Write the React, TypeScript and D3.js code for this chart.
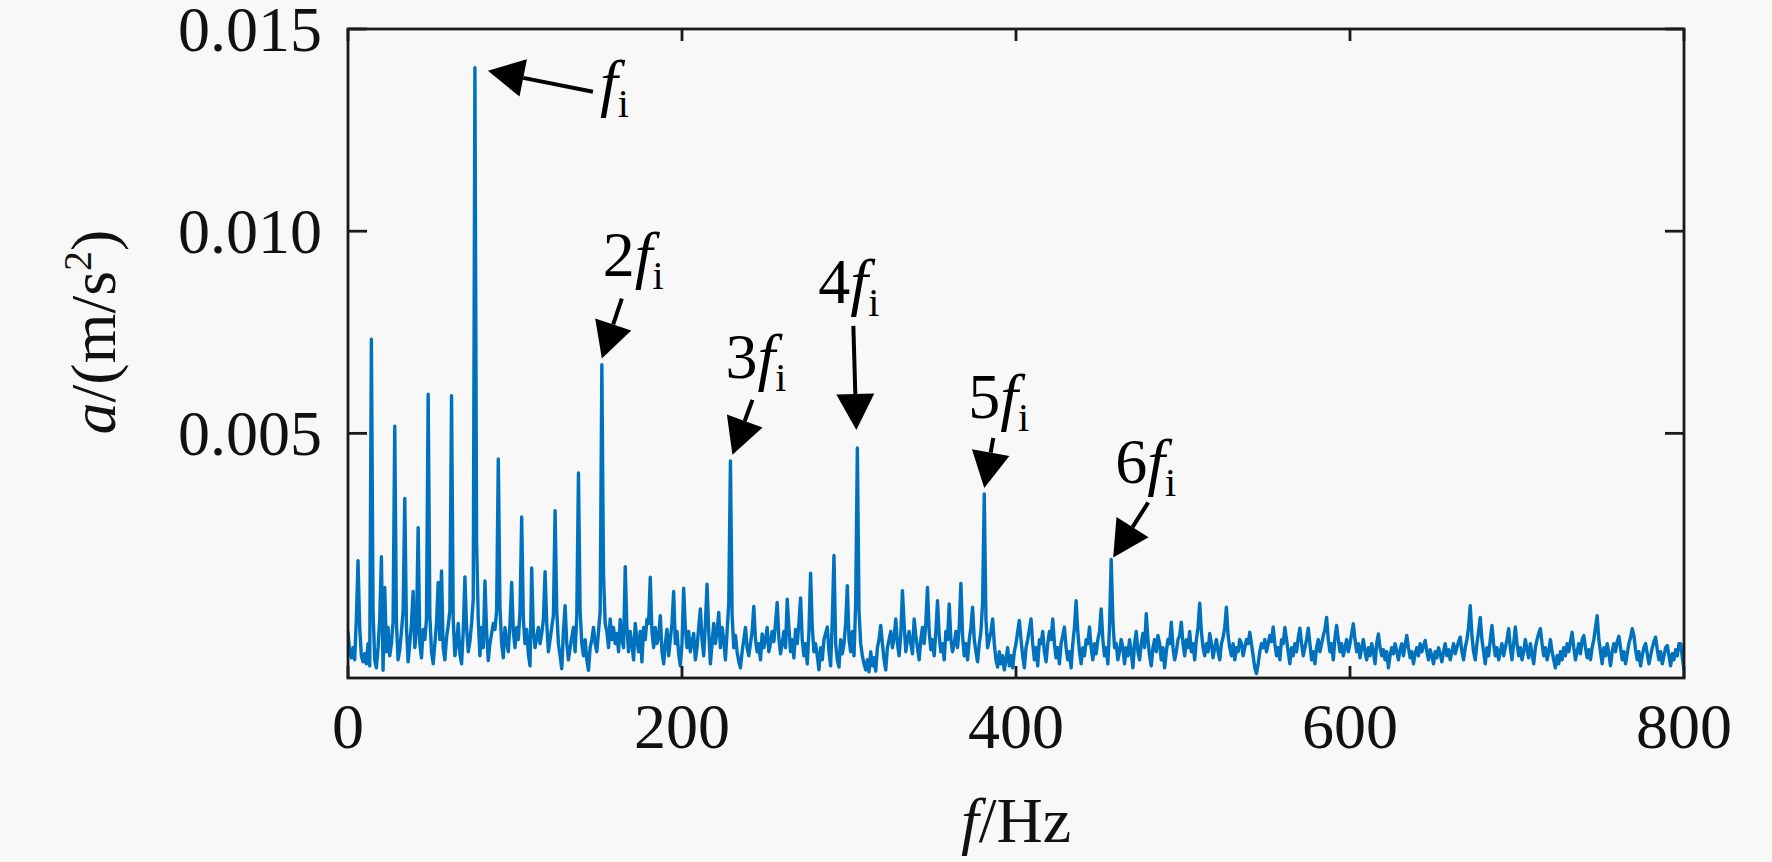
import React, { useEffect, useRef } from 'react';
import * as d3 from 'd3';

const WIDTH = 1772;
const HEIGHT = 862;

// spectrum bins, 1 Hz apart, starting at 0 Hz
const FREQ_STEP = 1;
// amplitude of every bin, in units of 1e-5 m/s^2
const AMP_UNIT = 1e-5;
const AMPLITUDE: number[] = [
  10, -40, -55, -30, -60, 40, 185, 20, -50, -65, -45, -70, -20, -75, 733, 60, -60, -80, -30, 40,
  195, -86, 119, -40, 20, -50, -20, 35, 518, 30, -60, -35, 10, 60, 339, 20, -65, -20, 30, 109,
  -30, 10, 267, -20, -55, 15, -10, 40, 597, 50, -40, -70, -20, 30, 131, -10, 160, -30, -60, -5,
  25, 60, 593, 40, -50, -20, 30, -45, -70, 10, 145, 20, -40, -15, 30, 90, 1404, 230, 40, -50,
  20, -30, 135, 10, -62, -20, 5, 30, 15, 60, 437, 70, -20, -55, 20, -15, -40, 30, 131, 10,
  -30, 20, -10, 60, 293, 40, -20, 15, -45, -75, 167, 10, -30, -5, 20, -20, 5, 40, 158, 30,
  -40, -10, 20, 50, 309, 60, -20, -50, -82, 10, 74, -20, -60, -30, -5, 20, -40, 50, 402, 60,
  -20, -50, -10, -60, -86, -30, -10, 20, -20, -40, 10, 60, 670, 150, 30, 10, -30, 41, -10, 20,
  -20, 5, -40, 40, -10, -30, 170, 20, -40, 10, -20, -60, 30, -10, -40, 10, -65, 20, -10, 40,
  30, 144, 10, -30, 20, -20, -5, 49, -40, -70, -20, 15, -50, -10, 30, 109, -20, 10, -45, -75,
  -20, 117, 20, -30, 10, -40, -15, 5, -60, -30, 20, 66, -10, -50, 30, 127, 10, -70, -20, 30,
  -20, 10, 57, -30, 20, -10, -60, 10, 80, 432, 50, -30, 0, -40, -65, -80, -40, -10, 20, -30,
  -50, -20, 10, 72, -10, -40, -20, -60, 4, -30, -10, 20, -40, -20, 10, -15, 30, 82, -5, -45,
  -20, 10, -30, 90, 20, -40, -10, -55, 15, -20, 30, 93, -10, -50, -20, -70, 10, 154, 20, -40,
  -20, -50, -85, -30, -60, -10, 5, 21, -40, -75, 40, 198, -20, -60, -78, -10, -45, -20, 30, 123,
  -10, -40, 10, -50, 80, 464, 60, -20, -50, -70, -85, -60, -90, -40, -75, -55, -88, -30, -10, 25,
  -20, -60, -85, -30, -10, 10, -30, -5, 41, -20, -50, 0, 111, 30, -40, -10, 10, -20, -45, 41,
  0, -30, -60, -10, 20, -20, 30, 119, 10, -35, -10, -50, 10, 86, 0, -40, -20, -60, 10, -10,
  78, -10, -40, -20, 10, -30, 20, 129, 0, -50, -20, -60, -10, 20, 70, -10, -40, -65, -20, 10,
  80, 350, 40, -30, -10, 10, 41, -20, -60, -78, -40, -70, -50, -85, -60, -30, -75, -50, -80, -40,
  -20, 10, 37, -10, -50, -80, -30, -10, 15, 41, -20, -60, -30, -75, -10, -20, 10, -40, -65, -20,
  10, -10, 41, -20, -55, -30, -70, -20, 0, 21, -30, -60, -40, -80, -20, 20, 86, 10, -40, -70,
  -30, -50, -10, -20, 21, -30, -60, -20, -45, -10, 10, 66, -10, -50, -30, -70, 20, 188, 40, -30,
  -20, -60, -40, -10, -29, -70, -30, -50, -10, -40, -80, -20, 10, -40, -60, -20, 5, -30, 54, -10,
  -50, -75, -30, -10, -40, 0, -20, -60, -30, -80, -40, -10, -20, 33, -30, -60, -40, -10, 0, 33,
  -20, -50, -10, -30, 10, -40, -20, -60, -10, 20, 80, 10, -30, -50, -20, -40, 5, -20, -55, -30,
  -10, -40, -60, -20, -5, 20, 70, 0, -30, -50, -20, -60, -30, -40, -10, -20, -50, -30, -10, -20,
  8, -20, -50, -80, -94, -70, -40, -20, -30, -10, -40, -20, 0, -15, 21, -20, -50, -30, -60, -10,
  -20, 20, -10, -40, -70, -30, -50, -20, -40, -5, 18, -20, -50, -30, -10, 18, -20, -60, -40, -70,
  -30, -10, -40, -20, 0, 15, 45, -10, -40, -20, -60, -5, 25, -10, -40, -20, -50, -30, -10, -40,
  -20, 5, 29, -10, -40, -20, -55, -30, -10, -40, -60, -30, -50, -20, -40, -70, -20, 4, -30, -50,
  -35, -60, -40, -80, -50, -30, -45, -20, -40, -60, -35, -20, -50, -25, 0, -30, -55, -40, -70, -45,
  -30, -50, -20, -40, -25, -12, -40, -60, -35, -50, -70, -40, -55, -30, -45, -65, -40, -20, -50, -35,
  -60, -40, -20, -45, -30, -15, -4, -40, -60, -30, -10, 20, 74, 0, -40, -60, -20, 10, 45, -10,
  -40, -70, -30, -50, -10, 25, -20, -50, -30, -60, -40, -20, -50, -30, -10, 17, -30, -60, -20, 21,
  -20, -50, -30, -60, -40, -10, -35, -55, -20, -45, -70, -30, -10, 5, 17, -20, -50, -30, -60, -40,
  -10, -40, -60, -80, -50, -70, -40, -60, -30, -50, -20, -40, -15, 8, -30, -60, -40, -20, -45, -10,
  0, -30, -55, -35, -60, -30, -10, 20, 49, -10, -40, -70, -30, -50, -20, -45, -75, -40, -20, -40,
  -15, -2, -30, -60, -40, -70, -45, -20, -5, 17, 0, -35, -60, -40, -75, -50, -30, -20, -45, -70,
  -50, -30, -15, -4, -35, -60, -40, -70, -50, -30, -25, -50, -75, -45, -60, -35, -50, -20, -20, -55,
  -85,
];

const X_DOMAIN: [number, number] = [0, 800];
const Y_DOMAIN: [number, number] = [-0.00105, 0.015];
const X_TICKS = [0, 200, 400, 600, 800];
const Y_TICKS = [0.005, 0.01, 0.015];

// harmonics of the fault frequency that get an arrow
const HARMONIC_ORDERS = [1, 2, 3, 4, 5, 6];
const HARMONIC_FREQS = [76, 152, 229, 305, 381, 457];

// arrow layout relative to each peak top (px): tip offset, tail and label relative to tip
const ARROW_LAYOUT = [
  { tip: [13, 3], tail: [105, 21], label: [112, 33] },
  { tip: [0, -6], tail: [20, -60], label: [1, -83] },
  { tip: [2, -6], tail: [20, -55], label: [-7, -77] },
  { tip: [-1, -18], tail: [-3, -104], label: [-38, -127] },
  { tip: [0, -6], tail: [9, -50], label: [-16, -70] },
  { tip: [2, -2], tail: [35, -55], label: [2, -75] },
];

const FONT = '"Liberation Serif", "Times New Roman", serif';
const LINE_COLOR = '#0072BD';
const AXIS_COLOR = '#1a1a1a';

const App: React.FC = () => {
  const svgRef = useRef<SVGSVGElement | null>(null);

  useEffect(() => {
    if (!svgRef.current) return;
    document.body.style.margin = '0';

    const margin = { left: 348, right: WIDTH - 1684, top: 29, bottom: HEIGHT - 678 };
    const x = d3.scaleLinear().domain(X_DOMAIN).range([margin.left, WIDTH - margin.right]);
    const y = d3.scaleLinear().domain(Y_DOMAIN).range([HEIGHT - margin.bottom, margin.top]);
    const [x0, x1] = x.range();
    const [y0, y1] = y.range();

    const svg = d3.select(svgRef.current)
      .attr('width', WIDTH)
      .attr('height', HEIGHT)
      .attr('font-family', FONT);

    svg.selectAll('*').remove();

    svg.append('rect')
      .attr('width', WIDTH)
      .attr('height', HEIGHT)
      .attr('fill', '#f8f8f8');

    svg.append('defs').append('clipPath')
      .attr('id', 'plot-clip')
      .append('rect')
      .attr('x', x0)
      .attr('y', y1)
      .attr('width', x1 - x0)
      .attr('height', y0 - y1);

    // spectrum
    const line = d3.line<number>()
      .x((_, i) => x(i * FREQ_STEP))
      .y(d => y(d * AMP_UNIT));

    svg.append('path')
      .datum(AMPLITUDE)
      .attr('clip-path', 'url(#plot-clip)')
      .attr('fill', 'none')
      .attr('stroke', LINE_COLOR)
      .attr('stroke-width', 3.4)
      .attr('stroke-linejoin', 'round')
      .attr('d', line);

    // box
    svg.append('rect')
      .attr('x', x0)
      .attr('y', y1)
      .attr('width', x1 - x0)
      .attr('height', y0 - y1)
      .attr('fill', 'none')
      .attr('stroke', AXIS_COLOR)
      .attr('stroke-width', 2.8);

    const ticks = svg.append('g').attr('stroke', AXIS_COLOR).attr('stroke-width', 2.8);
    X_TICKS.forEach(t => {
      ticks.append('line').attr('x1', x(t)).attr('x2', x(t)).attr('y1', y0).attr('y2', y0 - 12);
      ticks.append('line').attr('x1', x(t)).attr('x2', x(t)).attr('y1', y1).attr('y2', y1 + 12);
    });
    Y_TICKS.forEach(t => {
      ticks.append('line').attr('x1', x0).attr('x2', x0 + 19).attr('y1', y(t)).attr('y2', y(t));
      ticks.append('line').attr('x1', x1).attr('x2', x1 - 19).attr('y1', y(t)).attr('y2', y(t));
    });

    svg.append('g')
      .selectAll('text')
      .data(X_TICKS)
      .join('text')
      .attr('x', d => x(d))
      .attr('y', 748)
      .attr('text-anchor', 'middle')
      .attr('font-size', 64)
      .attr('fill', '#111')
      .text(d => d3.format('d')(d));

    svg.append('g')
      .selectAll('text')
      .data(Y_TICKS)
      .join('text')
      .attr('x', x0 - 26)
      .attr('y', d => y(d) + 22)
      .attr('text-anchor', 'end')
      .attr('font-size', 64)
      .attr('fill', '#111')
      .text(d => d3.format('.3f')(d));

    // axis titles
    const xTitle = svg.append('text')
      .attr('x', (x0 + x1) / 2)
      .attr('y', 842)
      .attr('text-anchor', 'middle')
      .attr('font-size', 64)
      .attr('fill', '#111');
    xTitle.append('tspan').attr('font-style', 'italic').text('f');
    xTitle.append('tspan').text('/Hz');

    const yTitle = svg.append('text')
      .attr('transform', `translate(115, 332) rotate(-90)`)
      .attr('text-anchor', 'middle')
      .attr('font-size', 64)
      .attr('fill', '#111');
    yTitle.append('tspan').attr('font-style', 'italic').text('a');
    yTitle.append('tspan').text('/(m/s');
    yTitle.append('tspan').attr('font-size', 40).attr('dy', -24).text('2');
    yTitle.append('tspan').attr('dy', 24).text(')');

    // harmonic arrows
    const headLen = 36;
    const headHalf = 19;
    const notes = svg.append('g');
    HARMONIC_ORDERS.forEach((order, i) => {
      const f = HARMONIC_FREQS[i];
      const amp = AMPLITUDE[Math.round(f / FREQ_STEP)] * AMP_UNIT;
      const lay = ARROW_LAYOUT[i];
      const tipX = x(f) + lay.tip[0];
      const tipY = y(amp) + lay.tip[1];
      const tailX = tipX + lay.tail[0];
      const tailY = tipY + lay.tail[1];
      const len = Math.hypot(tailX - tipX, tailY - tipY);
      const ux = (tailX - tipX) / len;
      const uy = (tailY - tipY) / len;
      const bx = tipX + ux * headLen;
      const by = tipY + uy * headLen;

      notes.append('line')
        .attr('x1', tailX).attr('y1', tailY)
        .attr('x2', bx).attr('y2', by)
        .attr('stroke', '#000')
        .attr('stroke-width', 4);

      notes.append('polygon')
        .attr('points', [
          [tipX, tipY],
          [bx - uy * headHalf, by + ux * headHalf],
          [bx + uy * headHalf, by - ux * headHalf],
        ].map(p => p.join(',')).join(' '))
        .attr('fill', '#000');

      const label = notes.append('text')
        .attr('x', tipX + lay.label[0])
        .attr('y', tipY + lay.label[1])
        .attr('font-size', 64)
        .attr('fill', '#000');
      if (order > 1) label.append('tspan').text(String(order));
      label.append('tspan').attr('font-style', 'italic').text('f');
      label.append('tspan').attr('font-size', 40).attr('dy', 13).text('i');
    });
  }, []);

  return (
    <div style={{ width: WIDTH, height: HEIGHT }}>
      <svg ref={svgRef}></svg>
    </div>
  );
};

export default App;
